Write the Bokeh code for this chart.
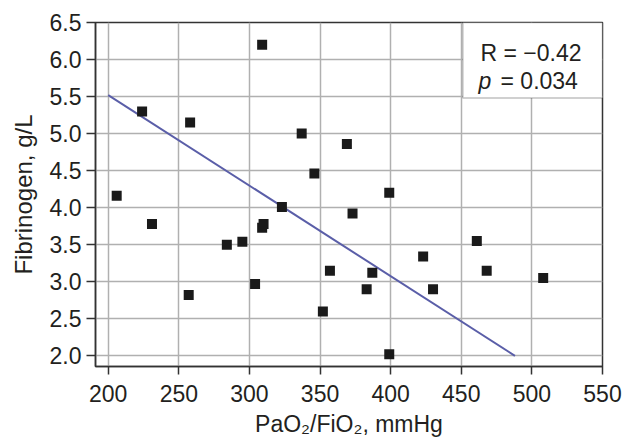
from bokeh.plotting import figure
from bokeh.models import FixedTicker, NumeralTickFormatter, BoxAnnotation, Label, Range1d
from bokeh.embed import file_html
from bokeh.resources import INLINE

# data
pao2_fio2 = [206, 224, 231, 258, 257, 284, 295, 304, 309, 309, 310, 323, 337, 346,
             352, 357, 369, 373, 383, 387, 399, 399, 423, 430, 461, 468, 508]
fibrinogen = [4.16, 5.30, 3.78, 5.15, 2.82, 3.50, 3.54, 2.97, 6.20, 3.73, 3.78, 4.01, 5.00, 4.46,
              2.60, 3.15, 4.86, 3.92, 2.90, 3.12, 4.20, 2.02, 3.34, 2.90, 3.55, 3.15, 3.05]
fit_x = [200, 488]
fit_y = [5.52, 2.00]
x_ticks = [200, 250, 300, 350, 400, 450, 500, 550]
y_ticks = [2.0, 2.5, 3.0, 3.5, 4.0, 4.5, 5.0, 5.5, 6.0, 6.5]
r_text = "R = \u22120.42"
p_value_text = "= 0.034"

FONT = "Liberation Sans"
TXT = "#231f20"
FS = "23px"

p = figure(width=623, height=443, output_backend="svg", toolbar_location=None,
           x_range=Range1d(191, 550), y_range=Range1d(1.856, 6.5),
           min_border_left=95, min_border_right=21, min_border_top=22, min_border_bottom=77)

p.background_fill_color = "white"
p.border_fill_color = "white"
p.outline_line_color = "#333333"
p.outline_line_width = 1.5

for ax in (p.xaxis[0], p.yaxis[0]):
    ax.axis_line_color = "#333333"
    ax.axis_line_width = 1.5
    ax.major_tick_line_color = "#333333"
    ax.major_tick_line_width = 1.5
    ax.major_tick_in = 0
    ax.minor_tick_line_color = None
    ax.major_label_text_font = FONT
    ax.major_label_text_font_size = FS
    ax.major_label_text_color = TXT
    ax.axis_label_text_font = FONT
    ax.axis_label_text_font_size = FS
    ax.axis_label_text_color = TXT
    ax.axis_label_text_font_style = "normal"

p.yaxis.axis_label_text_font_size = "24px"
p.xaxis.ticker = FixedTicker(ticks=x_ticks)
p.yaxis.ticker = FixedTicker(ticks=y_ticks)
p.yaxis.formatter = NumeralTickFormatter(format="0.0")
p.xaxis.major_tick_out = 8
p.yaxis.major_tick_out = 9
p.xaxis.major_label_standoff = 10
p.yaxis.major_label_standoff = 5
p.xaxis.axis_label = "PaO\u2082/FiO\u2082, mmHg"
p.yaxis.axis_label = "Fibrinogen, g/L"
p.xaxis.axis_label_standoff = 6
p.yaxis.axis_label_standoff = 10

p.grid.grid_line_color = "#b0b0b0"
p.grid.grid_line_width = 1.5
p.xgrid.ticker = FixedTicker(ticks=x_ticks)
p.ygrid.ticker = FixedTicker(ticks=y_ticks)

p.line(fit_x, fit_y, line_color="#5a5ea8", line_width=2)
p.scatter(pao2_fio2, fibrinogen, marker="square", size=10, fill_color="#1a1a1a", line_color=None)

box = BoxAnnotation(left=451.1, right=550, top=6.5, bottom=5.482,
                    fill_color="white", fill_alpha=1.0,
                    line_color="#333333", line_width=1.5)
p.add_layout(box)

p.add_layout(Label(x=463.6, y=6.095, text=r_text, text_font=FONT, text_font_size=FS,
                   text_color=TXT, text_baseline="alphabetic"))
p.add_layout(Label(x=462.2, y=5.704, text="p", text_font=FONT, text_font_size=FS,
                   text_font_style="italic", text_color=TXT, text_baseline="alphabetic"))
p.add_layout(Label(x=477.8, y=5.704, text=p_value_text, text_font=FONT, text_font_size=FS,
                   text_color=TXT, text_baseline="alphabetic"))

open("out.html", "w").write(file_html(p, INLINE))
